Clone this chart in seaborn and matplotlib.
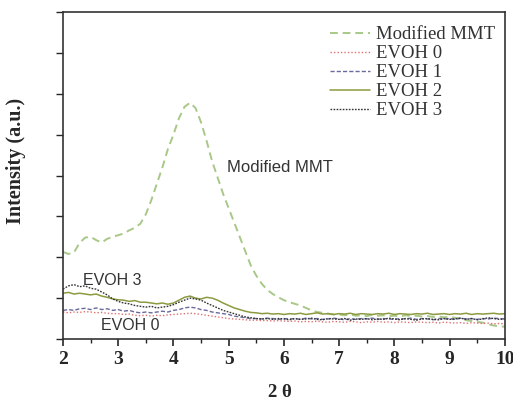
import numpy as np
import pandas as pd
import matplotlib
matplotlib.use("Agg")
import matplotlib.pyplot as plt
import seaborn as sns

two_theta = [round(2.0 + 0.1 * i, 1) for i in range(81)]

mmt = [2.13, 2.08, 2.12, 2.35, 2.48, 2.50, 2.42, 2.36, 2.45, 2.50,
       2.54, 2.58, 2.66, 2.72, 2.82, 3.05, 3.40, 3.80, 4.20, 4.65,
       5.00, 5.40, 5.68, 5.78, 5.65, 5.30, 4.85, 4.35, 3.95, 3.55,
       3.20, 2.85, 2.50, 2.15, 1.80, 1.55, 1.35, 1.20, 1.10, 1.02,
       0.95, 0.90, 0.86, 0.82, 0.76, 0.70, 0.66, 0.64, 0.62, 0.60,
       0.60, 0.58, 0.60, 0.57, 0.58, 0.56, 0.59, 0.57, 0.58, 0.56,
       0.57, 0.55, 0.58, 0.56, 0.57, 0.55, 0.56, 0.54, 0.55, 0.53,
       0.54, 0.52, 0.50, 0.46, 0.44, 0.42, 0.40, 0.36, 0.33, 0.31,
       0.30]

evoh0 = [0.66, 0.64, 0.66, 0.65, 0.67, 0.66, 0.64, 0.65, 0.63, 0.62,
         0.62, 0.60, 0.61, 0.58, 0.57, 0.58, 0.56, 0.58, 0.57, 0.59,
         0.60, 0.61, 0.62, 0.63, 0.62, 0.60, 0.58, 0.56, 0.54, 0.52,
         0.50, 0.49, 0.48, 0.47, 0.46, 0.46, 0.45, 0.45, 0.44, 0.45,
         0.44, 0.43, 0.44, 0.42, 0.43, 0.42, 0.44, 0.42, 0.41, 0.43,
         0.42, 0.41, 0.43, 0.42, 0.40, 0.42, 0.41, 0.43, 0.41, 0.42,
         0.40, 0.42, 0.41, 0.40, 0.42, 0.41, 0.40, 0.41, 0.39, 0.41,
         0.40, 0.39, 0.40, 0.38, 0.40, 0.39, 0.38, 0.39, 0.37, 0.38,
         0.37]

evoh1 = [0.70, 0.72, 0.70, 0.74, 0.75, 0.72, 0.76, 0.72, 0.74, 0.70,
         0.72, 0.68, 0.70, 0.66, 0.64, 0.66, 0.64, 0.66, 0.68, 0.66,
         0.70, 0.72, 0.76, 0.78, 0.76, 0.72, 0.70, 0.66, 0.64, 0.62,
         0.60, 0.56, 0.54, 0.52, 0.50, 0.50, 0.49, 0.51, 0.50, 0.48,
         0.50, 0.49, 0.50, 0.48, 0.51, 0.49, 0.50, 0.48, 0.49, 0.51,
         0.49, 0.47, 0.50, 0.48, 0.50, 0.49, 0.51, 0.48, 0.50, 0.49,
         0.48, 0.50, 0.49, 0.51, 0.48, 0.50, 0.49, 0.47, 0.50, 0.49,
         0.50, 0.48, 0.51, 0.49, 0.50, 0.48, 0.50, 0.49, 0.51, 0.50,
         0.49]

evoh2 = [1.12, 1.14, 1.10, 1.12, 1.10, 1.08, 1.10, 1.05, 1.02, 0.98,
         0.96, 0.95, 0.92, 0.94, 0.90, 0.90, 0.88, 0.86, 0.88, 0.85,
         0.88, 0.95, 1.02, 1.05, 1.00, 0.98, 1.02, 1.00, 0.95, 0.88,
         0.82, 0.76, 0.72, 0.68, 0.65, 0.64, 0.62, 0.63, 0.61, 0.62,
         0.60, 0.62, 0.61, 0.63, 0.60, 0.62, 0.64, 0.61, 0.62, 0.60,
         0.62, 0.61, 0.63, 0.60, 0.62, 0.61, 0.60, 0.62, 0.61, 0.63,
         0.60, 0.62, 0.61, 0.60, 0.62, 0.61, 0.63, 0.60, 0.61, 0.62,
         0.60, 0.62, 0.61, 0.63, 0.60, 0.62, 0.61, 0.62, 0.63, 0.61,
         0.62]

evoh3 = [1.22, 1.30, 1.33, 1.28, 1.30, 1.24, 1.22, 1.15, 1.08, 0.98,
         0.92, 0.88, 0.86, 0.82, 0.80, 0.78, 0.80, 0.76, 0.78, 0.80,
         0.84, 0.90, 0.95, 1.00, 0.98, 0.95, 0.88, 0.82, 0.76, 0.70,
         0.66, 0.62, 0.58, 0.54, 0.52, 0.50, 0.49, 0.50, 0.48, 0.50,
         0.49, 0.47, 0.50, 0.48, 0.49, 0.51, 0.48, 0.47, 0.50, 0.49,
         0.48, 0.50, 0.46, 0.49, 0.48, 0.50, 0.47, 0.49, 0.48, 0.51,
         0.49, 0.47, 0.50, 0.48, 0.46, 0.49, 0.50, 0.48, 0.47, 0.50,
         0.48, 0.49, 0.51, 0.48, 0.50, 0.47, 0.49, 0.52, 0.50, 0.48,
         0.49]

series_names = ["Modified MMT", "EVOH 0", "EVOH 1", "EVOH 2", "EVOH 3"]
series_values = [mmt, evoh0, evoh1, evoh2, evoh3]

sns.set_style("ticks")
plt.rcParams['font.family'] = ['Liberation Serif', 'DejaVu Serif']

fig = plt.figure(figsize=(5.13, 4.00), dpi=100)
ax = fig.add_axes([0.1228, 0.1525, 0.8612, 0.8175])

styles = {
    "Modified MMT": dict(color="#a8c888", lw=1.4, dashes=(4, 2.5)),
    "EVOH 0": dict(color="#e07070", lw=1.0, dashes=(1, 1.5)),
    "EVOH 1": dict(color="#6a6a9c", lw=1.0, dashes=(3, 1.5)),
    "EVOH 2": dict(color="#8c9a40", lw=1.1, dashes=None),
    "EVOH 3": dict(color="#333333", lw=1.0, dashes=(1.2, 1.0)),
}

for name, vals in zip(series_names, series_values):
    df = pd.DataFrame({"x": two_theta, "y": vals})
    st = styles[name]
    sns.lineplot(data=df, x="x", y="y", ax=ax, color=st["color"],
                 linewidth=st["lw"], label=name)
    l = ax.get_lines()[-1]
    if st["dashes"] is not None:
        l.set_dashes(st["dashes"])

ax.set_xlim(2, 10)
ax.set_ylim(0, 8)
ax.set_xticks(range(2, 11))
ax.set_xticks(np.arange(2.5, 10, 1), minor=True)
ax.set_yticks(range(0, 9))
ax.set_yticklabels([])
ax.tick_params(axis='x', which='major', direction='out', length=5, width=1.2,
               labelsize=14, pad=4)
ax.tick_params(axis='x', which='minor', direction='out', length=3, width=1.0)
ax.tick_params(axis='y', which='major', direction='out', length=5, width=1.0)
for lab in ax.get_xticklabels():
    lab.set_fontweight('bold')
for sp in ax.spines.values():
    sp.set_visible(True)
    sp.set_linewidth(1.2)
    sp.set_color("#333333")

ax.set_xlabel("2 θ", fontsize=13.5, fontweight='bold')
ax.xaxis.set_label_coords((280 - 63) / 441.8, -0.138)
ax.set_ylabel("Intensity (a.u.)", fontsize=14.5, fontweight='bold')
ax.yaxis.set_label_coords(-0.083, 0.544)

ax.text(4.97, 4.2, "Modified MMT", fontsize=12, family=['Liberation Sans'],
        color="#333333", va='center', ha='left')
ax.text(2.36, 1.42, "EVOH 3", fontsize=11.5, family=['Liberation Sans'],
        color="#333333", va='center', ha='left')
ax.text(2.69, 0.34, "EVOH 0", fontsize=11.5, family=['Liberation Sans'],
        color="#333333", va='center', ha='left')

leg = ax.legend(loc='upper right', frameon=False, fontsize=13.5,
                handlelength=2.1, handletextpad=0.35, labelspacing=0.1,
                borderaxespad=0.2, borderpad=0.3,
                bbox_to_anchor=(1.0, 0.985))
for t in leg.get_texts():
    t.set_color("#333333")

fig.savefig("out.png", dpi=100)
